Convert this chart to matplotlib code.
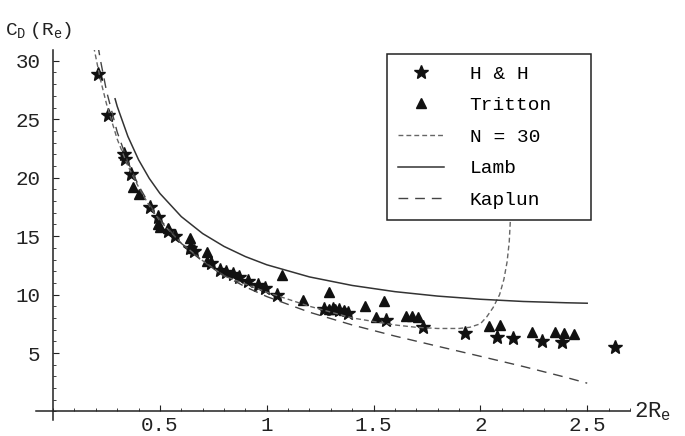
import matplotlib
matplotlib.use("Agg")
from matplotlib import pyplot as plt
from matplotlib.ticker import MultipleLocator

plt.rcParams['font.family'] = ['Liberation Mono', 'DejaVu Sans Mono']
plt.rcParams['mathtext.fontset'] = 'custom'
plt.rcParams['mathtext.rm'] = 'Liberation Mono'
plt.rcParams['mathtext.it'] = 'Liberation Mono'

# H & H data (stars)
hh_x = [0.21, 0.258, 0.33, 0.337, 0.365, 0.454, 0.49, 0.54, 0.57, 0.64, 0.66,
        0.74, 0.78, 0.81, 0.84, 0.87, 0.91, 0.96, 0.99, 1.05, 1.27, 1.31, 1.34,
        1.38, 1.56, 1.73, 1.93, 2.08, 2.155, 2.29, 2.38, 2.63]
hh_y = [28.9, 25.4, 22.0, 21.6, 20.3, 17.5, 16.6, 15.4, 15.0, 14.0, 13.7,
        12.7, 12.1, 11.9, 11.8, 11.5, 11.2, 10.8, 10.6, 9.95, 8.8, 8.8, 8.7,
        8.4, 7.8, 7.2, 6.7, 6.4, 6.3, 6.0, 5.9, 5.5]

# Tritton data (triangles)
tr_x = [0.375, 0.40, 0.49, 0.50, 0.54, 0.64, 0.65, 0.72, 0.72, 1.07, 1.17,
        1.29, 1.29, 1.32, 1.36, 1.46, 1.51, 1.55, 1.65, 1.68, 1.71, 2.04,
        2.09, 2.24, 2.35, 2.39, 2.44]
tr_y = [19.2, 18.6, 16.0, 15.8, 15.7, 14.8, 14.0, 13.6, 12.9, 11.7, 9.5,
        10.2, 8.8, 8.8, 8.7, 9.0, 8.1, 9.45, 8.15, 8.15, 8.1, 7.3,
        7.4, 6.8, 6.8, 6.7, 6.6]

# N = 30 curve
n30_x = [0.19, 0.22, 0.25, 0.30, 0.35, 0.40, 0.45, 0.50, 0.60, 0.70, 0.80,
         0.90, 1.00, 1.10, 1.20, 1.30, 1.40, 1.50, 1.60, 1.70, 1.80, 1.90,
         1.95, 2.00, 2.03, 2.06, 2.09, 2.11, 2.125, 2.135, 2.145]
n30_y = [31.2, 28.5, 26.3, 23.3, 21.0, 19.2, 17.6, 16.3, 14.4, 12.9, 11.6,
         10.9, 10.2, 9.6, 9.0, 8.5, 8.0, 7.7, 7.4, 7.2, 7.1, 7.1,
         7.2, 7.5, 8.1, 8.9, 10.0, 11.3, 12.8, 14.5, 18.0]

# Lamb curve
lamb_x = [0.29, 0.30, 0.35, 0.40, 0.45, 0.50, 0.60, 0.70, 0.80, 0.90, 1.00,
          1.20, 1.40, 1.60, 1.80, 2.00, 2.20, 2.40, 2.50]
lamb_y = [26.75, 26.1, 23.53, 21.53, 19.94, 18.65, 16.67, 15.22, 14.12, 13.25, 12.55,
          11.51, 10.78, 10.25, 9.87, 9.60, 9.41, 9.30, 9.26]

# Kaplun curve
kap_x = [0.21, 0.22, 0.25, 0.30, 0.35, 0.40, 0.45, 0.50, 0.60, 0.70, 0.80,
         0.90, 1.00, 1.20, 1.40, 1.60, 1.80, 2.00, 2.20, 2.40, 2.50]
kap_y = [31.3, 30.2, 27.4, 23.9, 21.34, 19.33, 17.73, 16.42, 14.38, 12.84, 11.64,
         10.66, 9.83, 8.49, 7.40, 6.45, 5.58, 4.72, 3.85, 2.92, 2.42]

fig = plt.figure(figsize=(6.85, 4.36), dpi=100)
ax = fig.add_axes([0.0526, 0.0367, 0.867, 0.848])

ax.plot(hh_x, hh_y, ls='none', marker='*', ms=10, color='#111111', label='H & H')
ax.plot(tr_x, tr_y, ls='none', marker='^', ms=7.5, color='#111111', label='Tritton')
ax.plot(n30_x, n30_y, color='#666666', lw=1.0, dashes=(3.5, 2.2), label='N = 30')
ax.plot(lamb_x, lamb_y, color='#333333', lw=1.1, label='Lamb')
ax.plot(kap_x, kap_y, color='#444444', lw=1.0, dashes=(7, 5), label='Kaplun')

ax.set_xlim(-0.08, 2.70)
ax.set_ylim(-0.73, 30.9)

# Mathematica style axes through the origin
ax.spines['left'].set_position(('data', 0))
ax.spines['bottom'].set_position(('data', 0))
ax.spines['top'].set_visible(False)
ax.spines['right'].set_visible(False)
for s in ('left', 'bottom'):
    ax.spines[s].set_color('#222222')
    ax.spines[s].set_linewidth(1.1)

ax.xaxis.set_major_locator(MultipleLocator(0.5))
ax.xaxis.set_minor_locator(MultipleLocator(0.1))
ax.yaxis.set_major_locator(MultipleLocator(5))
ax.yaxis.set_minor_locator(MultipleLocator(1))
ax.set_xticks([0.5, 1, 1.5, 2, 2.5])
ax.set_xticklabels(['0.5', '1', '1.5', '2', '2.5'])
ax.set_yticks([5, 10, 15, 20, 25, 30])
ax.tick_params(which='major', direction='in', length=4, width=0.8, labelsize=15, colors='#222222')
ax.tick_params(axis='y', which='major', pad=9)
ax.tick_params(axis='x', which='major', pad=3)
ax.tick_params(which='minor', direction='in', length=2, width=0.6, colors='#222222')

ax.text(2.72, 0, r'$\mathrm{2R_e}$', fontsize=16, va='center', ha='left', color='#222222',
        clip_on=False)
fig.text(0.008, 0.93, r'$\mathrm{C_D\ (R_e)}$', fontsize=14, va='center', ha='left', color='#222222')

leg = ax.legend(loc='upper left', bbox_to_anchor=(0.591, 0.522, 0.343, 0.467),
                mode='expand', fontsize=14, frameon=True, fancybox=False,
                borderpad=0.55, labelspacing=0.72, handlelength=2.4,
                handletextpad=1.3, borderaxespad=0)
leg.get_frame().set_edgecolor('#222222')
leg.get_frame().set_linewidth(1.1)
leg.get_frame().set_alpha(1)

fig.savefig('out.png', dpi=100)
